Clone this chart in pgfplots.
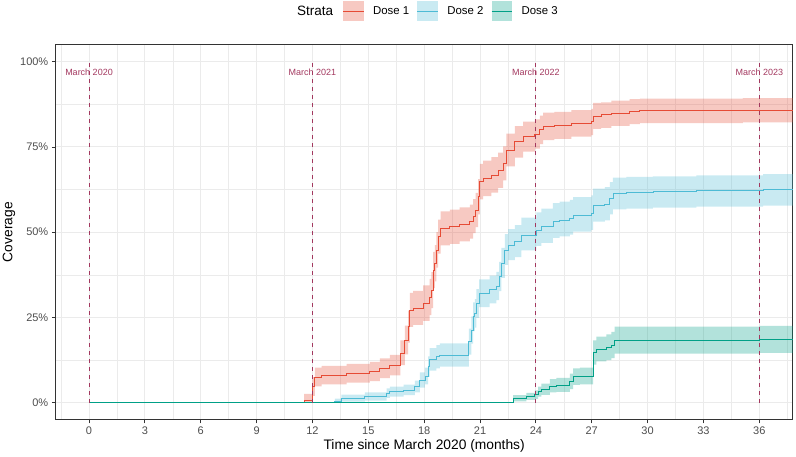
\documentclass[border=0pt]{standalone}
\usepackage{fontspec}
\setmainfont{Liberation Sans}
\usepackage{pgfplots}
\usepackage{pgfplotstable}
\pgfplotsset{compat=1.18}
\usepgfplotslibrary{fillbetween}
\definecolor{d1}{HTML}{E64B35}
\definecolor{d2}{HTML}{4DBBD5}
\definecolor{d3}{HTML}{00A087}
\definecolor{vl}{HTML}{A3385F}
\definecolor{grid92}{HTML}{EBEBEB}
\definecolor{g20}{HTML}{333333}
\definecolor{g30}{HTML}{4D4D4D}

\pgfplotstableread{
x y lo hi
0 0 0 0
11.55 0.8 0 2.6
12.00 4.7 2.0 7.5
12.13 7.5 4.8 10.3
12.49 8.1 5.4 10.8
13.83 8.6 5.9 11.4
15.08 9.1 6.3 12.0
15.62 10.1 7.2 13.0
16.16 11.0 8.0 14.0
16.72 14.6 11.0 18.3
16.96 18.4 14.2 22.6
17.14 22.3 17.6 27.0
17.23 27.2 22.2 32.2
17.41 27.8 22.8 32.8
17.95 29.2 24.0 34.4
18.30 31.0 25.7 36.3
18.39 33.0 27.7 38.3
18.48 38.9 33.6 44.2
18.57 40.9 35.6 46.2
18.66 44.8 39.6 50.0
18.75 48.7 43.7 53.7
18.88 51.1 46.1 56.1
19.38 51.6 46.6 56.6
19.91 52.3 47.3 57.3
20.45 53.1 48.1 58.1
20.63 54.7 49.7 59.7
20.77 56.5 51.5 61.5
20.90 60.4 55.2 65.6
20.99 64.8 59.6 70.0
21.17 65.8 60.6 71.0
21.61 66.8 61.6 72.0
21.97 68.2 63.0 73.3
22.24 70.2 65.2 75.2
22.42 74.1 69.3 78.9
22.87 76.5 71.9 81.1
23.31 78.0 73.6 82.4
23.94 78.8 74.5 83.1
24.21 80.0 75.8 84.2
24.39 81.1 77.0 85.1
25.00 81.4 77.4 85.3
25.91 81.9 78.0 85.8
26.98 82.4 78.5 86.2
27.07 84.1 80.3 87.9
27.50 84.4 80.6 88.1
28.05 84.9 81.2 88.6
29.04 85.3 81.7 89.0
29.58 85.6 82.0 89.2
35.12 85.8 82.2 89.3
38.00 85.8 82.2 89.3
}\doseone

\pgfplotstableread{
x y lo hi
0 0 0 0
13.20 0.3 0 1.2
13.56 1.3 0.3 2.4
14.81 1.8 0.6 3.0
15.98 2.8 1.4 4.2
16.16 3.2 1.8 4.7
16.90 3.7 2.2 5.3
17.50 4.7 3.0 6.5
17.77 6.6 4.4 8.9
18.04 7.8 5.4 10.3
18.21 10.6 7.6 13.6
18.30 12.7 9.4 16.0
18.66 13.5 10.1 16.9
18.84 14.0 10.6 17.4
20.40 17.9 14.1 21.7
20.54 21.3 17.3 25.3
20.63 25.2 21.0 29.4
20.72 26.2 22.0 30.4
20.81 29.1 24.9 33.3
20.95 32.1 28.0 36.2
21.52 33.2 29.1 37.3
21.88 34.2 30.1 38.4
22.02 36.9 32.7 41.3
22.15 40.9 36.6 45.4
22.33 44.8 40.4 49.4
22.51 46.2 41.8 50.9
22.87 47.2 42.7 52.1
23.22 49.2 44.7 54.3
24.03 50.6 46.0 55.8
24.30 51.6 46.9 56.9
24.92 53.1 48.3 58.5
25.28 53.6 48.8 59.0
25.82 54.1 49.3 59.5
26.00 55.0 50.2 60.3
26.98 55.5 50.7 60.8
27.07 57.8 53.1 62.8
27.70 58.2 53.5 63.2
27.97 59.9 55.2 64.7
28.14 61.4 56.7 66.0
28.86 61.6 56.9 66.2
30.29 61.9 57.2 66.4
32.62 62.2 57.5 66.7
36.20 62.6 57.8 67.0
38.00 62.6 57.8 67.0
}\dosetwo

\pgfplotstableread{
x y lo hi
0 0 0 0
22.78 1.3 0.4 2.2
23.49 1.8 0.8 2.9
23.94 2.3 1.1 3.6
24.12 3.2 1.8 4.7
24.30 3.9 2.3 5.6
24.75 4.9 3.0 6.9
25.10 5.2 3.2 7.3
25.82 6.2 4.0 8.5
26.00 7.6 5.2 10.1
26.36 7.8 5.4 10.3
27.07 14.7 11.2 18.3
27.25 15.7 12.1 19.4
27.79 16.2 12.5 20.0
28.06 16.9 13.1 20.8
28.23 18.4 14.4 22.3
36.02 18.6 14.6 22.5
38.00 18.6 14.6 22.5
}\dosethree

\begin{document}
\begin{tikzpicture}
\begin{axis}[
  at={(55.5bp,37.25bp)}, anchor=south west,
  scale only axis, width=737.3bp, height=375.1bp,
  xmin=-1.8, xmax=37.8, ymin=-5, ymax=105,
  xtick={0,3,...,36},
  minor xtick={-1.5,1.5,...,37.5},
  ytick={0,25,50,75,100},
  yticklabels={0\%,25\%,50\%,75\%,100\%},
  minor ytick={12.5,37.5,62.5,87.5},
  grid=both,
  major grid style={grid92, line width=1bp},
  minor grid style={grid92, line width=0.5bp},
  tick align=outside, tick pos=left,
  major tick length=3.7bp, minor tick length=0pt,
  tick style={g20, line width=0.8bp},
  axis line style={g20, line width=0.8bp},
  /pgf/number format/assume math mode=true,
  ticklabel style={font=\fontsize{11bp}{13bp}\selectfont, text=g30},
  xlabel={Time since March 2020 (months)},
  ylabel={Coverage},
  label style={font=\fontsize{13.8bp}{16bp}\selectfont},
  xlabel style={at={(axis description cs:0.5,0)}, anchor=center, yshift=-26.3bp},
  ylabel style={at={(axis description cs:0,0.5)}, anchor=center, yshift=46.5bp},
  legend style={at={(axis description cs:0.3895,1)}, anchor=west, yshift=33.65bp,
    draw=none, fill=none, inner sep=0pt, outer sep=0pt,
    font=\fontsize{11.4bp}{13bp}\selectfont,
    /tikz/every even column/.append style={column sep=7.7bp},
    /tikz/every odd column/.append style={column sep=9bp},
    nodes={inner sep=0pt}},
  legend columns=-1,
]
\addlegendimage{legend image code/.code={\path[fill=d1, fill opacity=0.3, draw=none] (0bp,-10bp) rectangle (20.6bp,10bp); \path[draw=d1, line width=0.8bp] (0bp,0bp)--(20.6bp,0bp);}}
\addlegendentry{Dose 1}
\addlegendimage{legend image code/.code={\path[fill=d2, fill opacity=0.3, draw=none] (0bp,-10bp) rectangle (20.6bp,10bp); \path[draw=d2, line width=0.8bp] (0bp,0bp)--(20.6bp,0bp);}}
\addlegendentry{Dose 2}
\addlegendimage{legend image code/.code={\path[fill=d3, fill opacity=0.3, draw=none] (0bp,-10bp) rectangle (20.6bp,10bp); \path[draw=d3, line width=0.8bp] (0bp,0bp)--(20.6bp,0bp);}}
\addlegendentry{Dose 3}

\addplot[name path=aH, draw=none, const plot mark left, forget plot] table[x=x,y=hi]{\doseone};
\addplot[name path=aL, draw=none, const plot mark left, forget plot] table[x=x,y=lo]{\doseone};
\addplot[fill=d1, fill opacity=0.3, draw=none, forget plot] fill between[of=aH and aL];
\addplot[name path=bH, draw=none, const plot mark left, forget plot] table[x=x,y=hi]{\dosetwo};
\addplot[name path=bL, draw=none, const plot mark left, forget plot] table[x=x,y=lo]{\dosetwo};
\addplot[fill=d2, fill opacity=0.3, draw=none, forget plot] fill between[of=bH and bL];
\addplot[name path=cH, draw=none, const plot mark left, forget plot] table[x=x,y=hi]{\dosethree};
\addplot[name path=cL, draw=none, const plot mark left, forget plot] table[x=x,y=lo]{\dosethree};
\addplot[fill=d3, fill opacity=0.3, draw=none, forget plot] fill between[of=cH and cL];

\addplot[d1, line width=0.8bp, const plot mark left, forget plot] table[x=x,y=y]{\doseone};
\addplot[d2, line width=0.8bp, const plot mark left, forget plot] table[x=x,y=y]{\dosetwo};
\addplot[d3, line width=0.8bp, const plot mark left, forget plot] table[x=x,y=y]{\dosethree};

\addplot[vl, line width=0.8bp, dash pattern=on 4bp off 4bp, forget plot] coordinates {(0,0) (0,100)};
\addplot[vl, line width=0.8bp, dash pattern=on 4bp off 4bp, forget plot] coordinates {(12,0) (12,100)};
\addplot[vl, line width=0.8bp, dash pattern=on 4bp off 4bp, forget plot] coordinates {(24,0) (24,100)};
\addplot[vl, line width=0.8bp, dash pattern=on 4bp off 4bp, forget plot] coordinates {(36,0) (36,100)};

\node[vl, font=\fontsize{9bp}{10bp}\selectfont] at (axis cs:0,97) {March 2020};
\node[vl, font=\fontsize{9bp}{10bp}\selectfont] at (axis cs:12,97) {March 2021};
\node[vl, font=\fontsize{9bp}{10bp}\selectfont] at (axis cs:24,97) {March 2022};
\node[vl, font=\fontsize{9bp}{10bp}\selectfont] at (axis cs:36,97) {March 2023};
\end{axis}
\node[anchor=west, inner sep=0pt, font=\fontsize{13.5bp}{16bp}\selectfont] at (297bp,446bp) {Strata};
\pgfresetboundingbox
\path[use as bounding box] (0bp,0bp) rectangle (796bp,457bp);
\end{tikzpicture}
\end{document}
